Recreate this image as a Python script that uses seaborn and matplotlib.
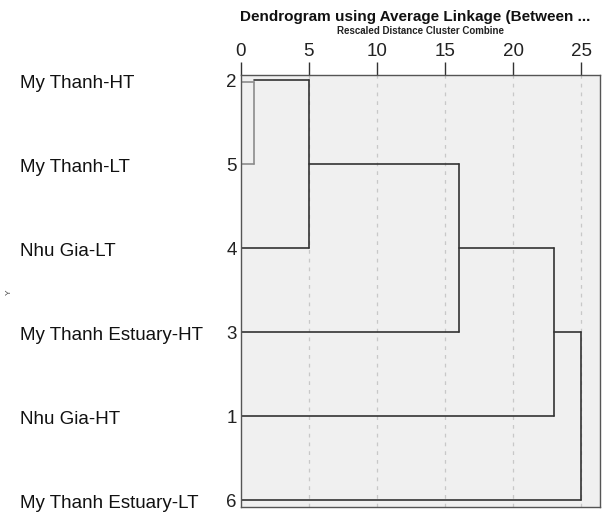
import matplotlib
matplotlib.use("Agg")
import matplotlib.pyplot as plt
import matplotlib.transforms as mtransforms
import pandas as pd
import seaborn as sns

# rows from top to bottom
case_names = ["My Thanh-HT", "My Thanh-LT", "Nhu Gia-LT",
              "My Thanh Estuary-HT", "Nhu Gia-HT", "My Thanh Estuary-LT"]
case_ids = ["2", "5", "4", "3", "1", "6"]

# merges: (top row, bottom row, rescaled distance, row where the branch leaves)
merge_top = [0, 0, 1, 2, 3]
merge_bottom = [1, 2, 3, 4, 5]
merge_dist = [1, 5, 16, 23, 25]
merge_out = [0, 1, 2, 3, 3]
merge_color = ["#8c8c8c", "#333333", "#333333", "#333333", "#333333"]

x_ticks = [0, 5, 10, 15, 20, 25]

sns.set_theme(style="white")
plt.rcParams["font.family"] = ["Liberation Sans", "DejaVu Sans"]

fig = plt.figure(figsize=(6.05, 5.17), dpi=100)
ax = fig.add_axes([0.398, 0.019, 0.594, 0.836])
ax.set_facecolor("#f0f0f0")

# build segments for each merge
rows = []
seg = 0
start = {0: 0, 1: 0, 2: 0, 3: 0, 4: 0, 5: 0}
for top, bot, d, out, col in zip(merge_top, merge_bottom, merge_dist, merge_out, merge_color):
    rows.append((seg, start[top], top, col)); rows.append((seg, d, top, col)); seg += 1
    rows.append((seg, d, top, col)); rows.append((seg, d, bot, col)); seg += 1
    rows.append((seg, start[bot], bot, col)); rows.append((seg, d, bot, col)); seg += 1
    start[out] = d
segs = pd.DataFrame(rows, columns=["seg", "x", "y", "color"])

light = segs[segs["color"] == "#8c8c8c"].copy()
light.loc[light["y"] == 0, "y"] = 0.02
dark = segs[segs["color"] == "#333333"]

sns.lineplot(data=light, x="x", y="y", units="seg", estimator=None, sort=False,
             color="#8c8c8c", lw=1.2, ax=ax)
sns.lineplot(data=dark, x="x", y="y", units="seg", estimator=None, sort=False,
             color="#333333", lw=1.2, ax=ax)
ax.axvline(0, color="#333333", lw=1.4)

for xv in x_ticks[1:]:
    ax.axvline(xv, color="#c8c8c8", lw=0.9, ls=(0, (3, 4)), zorder=0)

ax.set_xlim(0, 26.4)
ax.set_ylim(5.083, -0.06)
ax.xaxis.tick_top()
ax.set_xticks(x_ticks)
ax.set_xticklabels([str(t) for t in x_ticks], fontsize=13.5, color="#222222")
ax.tick_params(axis="x", direction="out", length=9.5, width=1, color="#333333", pad=1)
ax.set_yticks(range(len(case_ids)))
ax.set_yticklabels(case_ids, fontsize=13.5, color="#222222")
ax.tick_params(axis="y", direction="out", length=2, width=1, color="#555555", pad=1)
ax.set_xlabel("")
ax.set_ylabel("")

fig.text(0.686, 1 - 17 / 517, "Dendrogram using Average Linkage (Between ...",
         fontsize=11, fontweight="bold", ha="center", va="center", color="#111111")
fig.text(0.695, 1 - 31 / 517, "Rescaled Distance Cluster Combine",
         fontsize=7, fontweight="bold", ha="center", va="center", color="#222222")

for s in ax.spines.values():
    s.set_color("#555555")
    s.set_linewidth(1.0)

trans = mtransforms.blended_transform_factory(fig.transFigure, ax.transData)
for i, name in enumerate(case_names):
    ax.text(0.033, i + 0.045, name, transform=trans, fontsize=13.5, ha="left",
            va="center", color="#111111", clip_on=False)

fig.text(0.015, 0.434, "Y", fontsize=6, rotation=90, ha="center", va="center",
         color="#444444")

fig.savefig("out.png", dpi=100)
